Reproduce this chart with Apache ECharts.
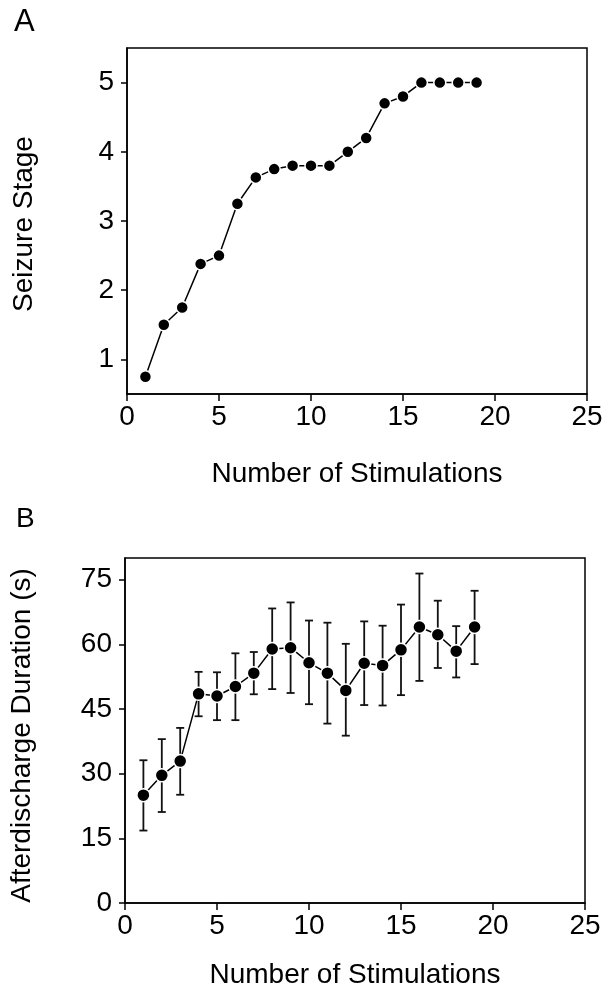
<!DOCTYPE html>
<html>
<head>
<meta charset="utf-8">
<script src="https://cdn.jsdelivr.net/npm/echarts@6/dist/echarts.min.js"></script>
<style>
  html, body { margin: 0; padding: 0; background: #fff; }
  #chart { width: 607px; height: 998px; }
</style>
</head>
<body>
<div id="chart"></div>
<script>
// panel A: seizure stage per stimulation
const stimA = [1, 2, 3, 4, 5, 6, 7, 8, 9, 10, 11, 12, 13, 14, 15, 16, 17, 18, 19];
const stageA = [0.75, 1.5, 1.75, 2.38, 2.5, 3.25, 3.63, 3.75, 3.8, 3.8, 3.8, 4.0, 4.2, 4.7, 4.8, 5, 5, 5, 5];

// panel B: afterdischarge duration, mean with error bar ends
const stimB = [1, 2, 3, 4, 5, 6, 7, 8, 9, 10, 11, 12, 13, 14, 15, 16, 17, 18, 19];
const durMean = [25.0, 29.6, 32.9, 48.5, 48.0, 50.2, 53.3, 58.9, 59.2, 55.7, 53.3, 49.3, 55.6, 55.1, 58.7, 64.0, 62.2, 58.4, 64.0];
const durHigh = [33.1, 38.0, 40.6, 53.6, 53.5, 57.9, 58.2, 68.3, 69.7, 65.5, 65.0, 60.1, 65.3, 64.3, 69.2, 76.4, 70.1, 64.2, 72.4];
const durLow = [16.8, 21.1, 25.1, 43.3, 42.4, 42.4, 48.4, 49.6, 48.7, 46.1, 41.6, 38.8, 45.9, 45.8, 48.2, 51.5, 54.5, 52.3, 55.4];

const ticksStage = [1, 2, 3, 4, 5];
const ticksDur = [0, 15, 30, 45, 60, 75];

const FONT = '"Liberation Sans", Arial, sans-serif';

let chart = echarts.init(document.getElementById('chart'));

function xAxisCfg(gridIndex, gap) {
  return {
    type: 'value',
    gridIndex: gridIndex,
    min: 0,
    max: 25,
    interval: 5,
    name: 'Number of Stimulations',
    nameLocation: 'middle',
    nameGap: gap,
    nameTextStyle: {fontFamily: FONT, fontSize: 28, color: '#000'},
    axisLine: {show: true, onZero: false, lineStyle: {color: '#000', width: 1.5}},
    axisTick: {show: true, length: 7, lineStyle: {color: '#000', width: 1.5}},
    axisLabel: {fontFamily: FONT, fontSize: 28, color: '#000', margin: 9},
    splitLine: {show: false}
  };
}

function yAxisCfg(gridIndex, name, min, max, ticks, shift) {
  return {
    type: 'value',
    gridIndex: gridIndex,
    min: min,
    max: max,
    name: name,
    nameLocation: 'middle',
    nameGap: 89,
    // padding on the far end nudges the rotated name a little downwards
    nameTextStyle: {fontFamily: FONT, fontSize: 28, color: '#000', padding: [0, shift, 0, 0]},
    axisLine: {show: true, onZero: false, lineStyle: {color: '#000', width: 1.5}},
    axisTick: {show: true, length: 6, customValues: ticks, lineStyle: {color: '#000', width: 1.5}},
    axisLabel: {fontFamily: FONT, fontSize: 28, color: '#000', margin: 13, customValues: ticks},
    splitLine: {show: false}
  };
}

chart.setOption({
  backgroundColor: '#fff',
  animation: false,
  title: [
    {text: 'A', left: 9, top: 2, textStyle: {fontFamily: FONT, fontSize: 31, fontWeight: 'normal', color: '#000'}},
    {text: 'B', left: 11, top: 500, textStyle: {fontFamily: FONT, fontSize: 28, fontWeight: 'normal', color: '#000'}}
  ],
  grid: [
    {left: 127, top: 48, width: 460, height: 346, show: true, borderColor: '#000', borderWidth: 1.5, backgroundColor: 'transparent'},
    {left: 125, top: 558, width: 460, height: 345, show: true, borderColor: '#000', borderWidth: 1.5, backgroundColor: 'transparent'}
  ],
  xAxis: [xAxisCfg(0, 66), xAxisCfg(1, 58)],
  yAxis: [
    yAxisCfg(0, 'Seizure Stage', 0.5, 5.5, ticksStage, 6),
    yAxisCfg(1, 'Afterdischarge Duration (s)', 0, 80, ticksDur, 10)
  ],
  series: [
    {
      name: 'Seizure Stage',
      type: 'line',
      xAxisIndex: 0,
      yAxisIndex: 0,
      data: stimA.map((x, i) => [x, stageA[i]]),
      symbol: 'circle',
      symbolSize: 12,
      lineStyle: {color: '#000', width: 1.5},
      itemStyle: {color: '#000', borderColor: '#fff', borderWidth: 1.5},
      z: 3
    },
    {
      name: 'Error',
      type: 'custom',
      xAxisIndex: 1,
      yAxisIndex: 1,
      data: stimB.map((x, i) => [x, durLow[i], durHigh[i]]),
      encode: {x: 0, y: [1, 2]},
      renderItem: function (params, api) {
        let lo = api.coord([api.value(0), api.value(1)]);
        let hi = api.coord([api.value(0), api.value(2)]);
        let half = 4;
        let style = {stroke: '#111', lineWidth: 1.8};
        return {
          type: 'group',
          children: [
            {type: 'line', shape: {x1: hi[0], y1: hi[1], x2: lo[0], y2: lo[1]}, style: style},
            {type: 'line', shape: {x1: hi[0] - half, y1: hi[1], x2: hi[0] + half, y2: hi[1]}, style: style},
            {type: 'line', shape: {x1: lo[0] - half, y1: lo[1], x2: lo[0] + half, y2: lo[1]}, style: style}
          ]
        };
      },
      z: 2
    },
    {
      name: 'Afterdischarge Duration',
      type: 'line',
      xAxisIndex: 1,
      yAxisIndex: 1,
      data: stimB.map((x, i) => [x, durMean[i]]),
      symbol: 'circle',
      symbolSize: 13,
      lineStyle: {color: '#000', width: 1.5},
      itemStyle: {color: '#000', borderColor: '#fff', borderWidth: 1.5},
      z: 3
    }
  ]
});
</script>
</body>
</html>
